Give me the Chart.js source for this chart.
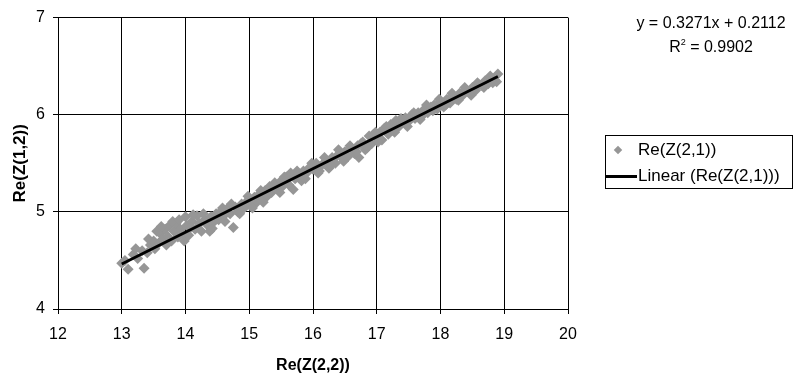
<!DOCTYPE html>
<html>
<head>
<meta charset="utf-8">
<script src="https://cdn.jsdelivr.net/npm/chart.js@4.4.1/dist/chart.umd.min.js"></script>
<style>
    html, body { margin: 0; padding: 0; background: #fff; }
    #wrap { position: relative; width: 797px; height: 378px; font-family: "Liberation Sans", Arial, sans-serif; color: #000; }
    #chart { position: absolute; left: 0; top: 0; }
    #equation { position: absolute; left: 631px; top: 11px; width: 160px; text-align: center; font-size: 16px; line-height: 24px; }
    #equation sup { font-size: 9px; vertical-align: 7px; line-height: 0; }
    #legend { position: absolute; left: 605px; top: 135px; width: 186px; height: 52px; border: 1px solid #000; font-size: 17px; }
    .leg-row { position: absolute; left: 0; height: 26px; line-height: 26px; }
    .leg-diamond { position: absolute; left: 9px; width: 6px; height: 6px; background: #969696; transform: rotate(45deg); }
    .leg-line { position: absolute; left: 0; width: 31px; height: 3px; background: #000; }
    .leg-text { position: absolute; left: 32px; white-space: nowrap; }
</style>
</head>
<body>
<div id="wrap">
    <canvas id="chart" width="797" height="378"></canvas>
    <div id="equation">y = 0.3271x + 0.2112<br>R<sup>2</sup> = 0.9902</div>
    <div id="legend">
        <div class="leg-row" style="top:1px">
            <div class="leg-diamond" style="top:10px"></div>
            <div class="leg-text">Re(Z(2,1))</div>
        </div>
        <div class="leg-row" style="top:27px">
            <div class="leg-line" style="top:12px"></div>
            <div class="leg-text">Linear (Re(Z(2,1)))</div>
        </div>
    </div>
</div>
<script>
// scatter values: Re(Z(2,2)) vs Re(Z(1,2))
const reZ22 = [
    13.00, 13.10, 13.18, 13.25, 13.32, 13.35, 13.40, 13.45, 13.50, 13.52,
    13.58, 13.60, 13.65, 13.68, 13.72, 13.75, 13.78, 13.82, 13.85, 13.88,
    13.92, 13.95, 14.00, 14.02, 14.05, 14.10, 14.15, 14.18, 14.22, 14.25,
    14.30, 14.35, 14.40, 14.42, 14.48, 14.52, 14.55, 14.60, 14.65, 14.70,
    14.75, 14.78, 14.82, 14.88, 14.92, 14.95, 15.00, 15.02, 15.08, 15.12,
    15.15, 15.20, 15.25, 15.28, 15.32, 15.35, 15.40, 15.45, 15.50, 15.52,
    15.58, 15.62, 15.65, 15.69, 15.72, 15.78, 15.82, 15.85, 15.90, 15.95,
    16.00, 16.05, 16.10, 16.15, 16.20, 16.25, 16.30, 16.35, 16.40, 16.45,
    16.50, 16.55, 16.60, 16.65, 16.70, 16.72, 16.78, 16.82, 16.88, 16.92,
    16.95, 17.00, 17.05, 17.08, 17.12, 17.18, 17.22, 17.25, 17.30, 17.35,
    17.40, 17.45, 17.50, 17.55, 17.60, 17.65, 17.70, 17.75, 17.80, 17.85,
    17.90, 17.95, 18.00, 18.05, 18.10, 18.15, 18.20, 18.25, 18.30, 18.35,
    18.40, 18.45, 18.50, 18.55, 18.60, 18.65, 18.70, 18.75, 18.80, 18.85,
    18.90, 18.88,
    13.05, 13.22, 13.42, 13.55, 13.62, 13.70, 13.80, 13.90, 13.98, 14.08,
    14.12, 14.28, 14.38, 14.45, 14.58, 14.62, 14.72, 14.85, 14.98, 15.05,
    15.18, 15.22, 15.38, 15.48, 15.55, 15.60, 15.75, 15.88, 15.98, 16.08,
    16.18, 16.28, 16.38, 16.48, 16.58, 16.68, 16.75, 16.85, 16.98, 17.02,
    17.15, 17.28, 17.38, 17.48, 17.58, 17.68, 17.78, 17.88, 17.98, 18.08,
    18.18, 18.28, 18.38, 18.48, 18.58, 18.68, 18.78, 18.82
];
const reZ12 = [
    4.47, 4.41, 4.56, 4.52, 4.60, 4.42, 4.58, 4.66, 4.70, 4.62,
    4.68, 4.78, 4.72, 4.82, 4.75, 4.86, 4.70, 4.80, 4.88, 4.74,
    4.82, 4.78, 4.95, 4.86, 4.76, 4.90, 4.82, 4.96, 4.88, 4.80,
    4.92, 4.86, 4.95, 4.83, 4.98, 4.92, 5.00, 4.96, 5.03, 4.98,
    4.84, 5.05, 5.00, 5.08, 5.04, 5.10, 5.13, 5.07, 5.15, 5.10,
    5.18, 5.14, 5.22, 5.16, 5.26, 5.20, 5.30, 5.24, 5.32, 5.26,
    5.36, 5.28, 5.40, 5.23, 5.34, 5.38, 5.32, 5.42, 5.40, 5.46,
    5.44, 5.50, 5.42, 5.49, 5.52, 5.45, 5.56, 5.50, 5.64, 5.56,
    5.62, 5.57, 5.66, 5.60, 5.68, 5.56, 5.72, 5.64, 5.78, 5.70,
    5.80, 5.76, 5.82, 5.74, 5.86, 5.80, 5.90, 5.84, 5.94, 5.88,
    5.92, 5.97, 5.93, 6.00, 5.96, 6.02, 5.98, 6.06, 6.02, 6.08,
    6.10, 6.06, 6.13, 6.08, 6.16, 6.12, 6.20, 6.16, 6.22, 6.20,
    6.26, 6.23, 6.28, 6.25, 6.31, 6.30, 6.35, 6.32, 6.37, 6.36,
    6.42, 6.34,
    4.50, 4.62, 4.72, 4.80, 4.85, 4.66, 4.90, 4.92, 4.70, 4.84,
    4.97, 4.98, 4.80, 4.90, 5.04, 4.90, 5.08, 4.98, 5.16, 5.04,
    5.22, 5.10, 5.28, 5.20, 5.36, 5.33, 5.42, 5.34, 5.50, 5.40,
    5.56, 5.48, 5.58, 5.52, 5.68, 5.62, 5.70, 5.66, 5.82, 5.72,
    5.88, 5.82, 5.96, 5.88, 6.02, 5.95, 6.10, 6.04, 6.16, 6.10,
    6.22, 6.15, 6.28, 6.20, 6.33, 6.28, 6.40, 6.33
];

// trendline as given in the picture
const slope = 0.3271;
const intercept = 0.2112;

const xTicks = [12, 13, 14, 15, 16, 17, 18, 19, 20];
const yTicks = [4, 5, 6, 7];

const font_family = '"Liberation Sans", Arial, sans-serif';

let points = [];
for (let i = 0; i < reZ22.length; i++) {
    points.push({ x: reZ22[i], y: reZ12[i] });
}
const xMin = Math.min(...reZ22), xMax = Math.max(...reZ22);
const trend = [
    { x: xMin, y: slope * xMin + intercept },
    { x: xMax, y: slope * xMax + intercept }
];

const config = {
    type: "scatter",
    data: {
        datasets: [{
            label: "Re(Z(2,1))",
            data: points,
            pointStyle: "rectRot",
            pointRadius: 5.5,
            backgroundColor: "#969696",
            borderWidth: 0,
            order: 2
        }, {
            label: "Linear (Re(Z(2,1)))",
            data: trend,
            showLine: true,
            pointRadius: 0,
            borderColor: "#000",
            borderWidth: 3,
            order: 1
        }]
    },
    options: {
        responsive: false,
        animation: false,
        layout: { padding: { left: 10, right: 229, top: 15, bottom: 3 } },
        plugins: {
            legend: { display: false },
            tooltip: { enabled: false }
        },
        scales: {
            x: {
                type: "linear",
                min: 12, max: 20,
                afterBuildTicks: (scale) => { scale.ticks = xTicks.map(v => ({ value: v })); },
                afterFit: (scale) => { scale.height = 378 - 3 - 309; },
                grid: { color: "#000", lineWidth: 1, tickLength: 5 },
                border: { color: "#000" },
                ticks: { color: "#000", padding: 11, font: { family: font_family, size: 16 } },
                title: {
                    display: true, text: "Re(Z(2,2))", color: "#000", padding: 0,
                    font: { family: font_family, size: 16, weight: "bold" }
                }
            },
            y: {
                type: "linear",
                min: 4, max: 7,
                afterBuildTicks: (scale) => { scale.ticks = yTicks.map(v => ({ value: v })); },
                afterFit: (scale) => { scale.width = 58 - 10; },
                grid: { color: "#000", lineWidth: 1, tickLength: 5 },
                border: { color: "#000" },
                ticks: { color: "#000", padding: 8, font: { family: font_family, size: 16 } },
                title: {
                    display: true, text: "Re(Z(1,2))", color: "#000", padding: 0,
                    font: { family: font_family, size: 17, weight: "bold" }
                }
            }
        }
    }
};

window.z_chart = new Chart(document.getElementById("chart"), config);
</script>
</body>
</html>
